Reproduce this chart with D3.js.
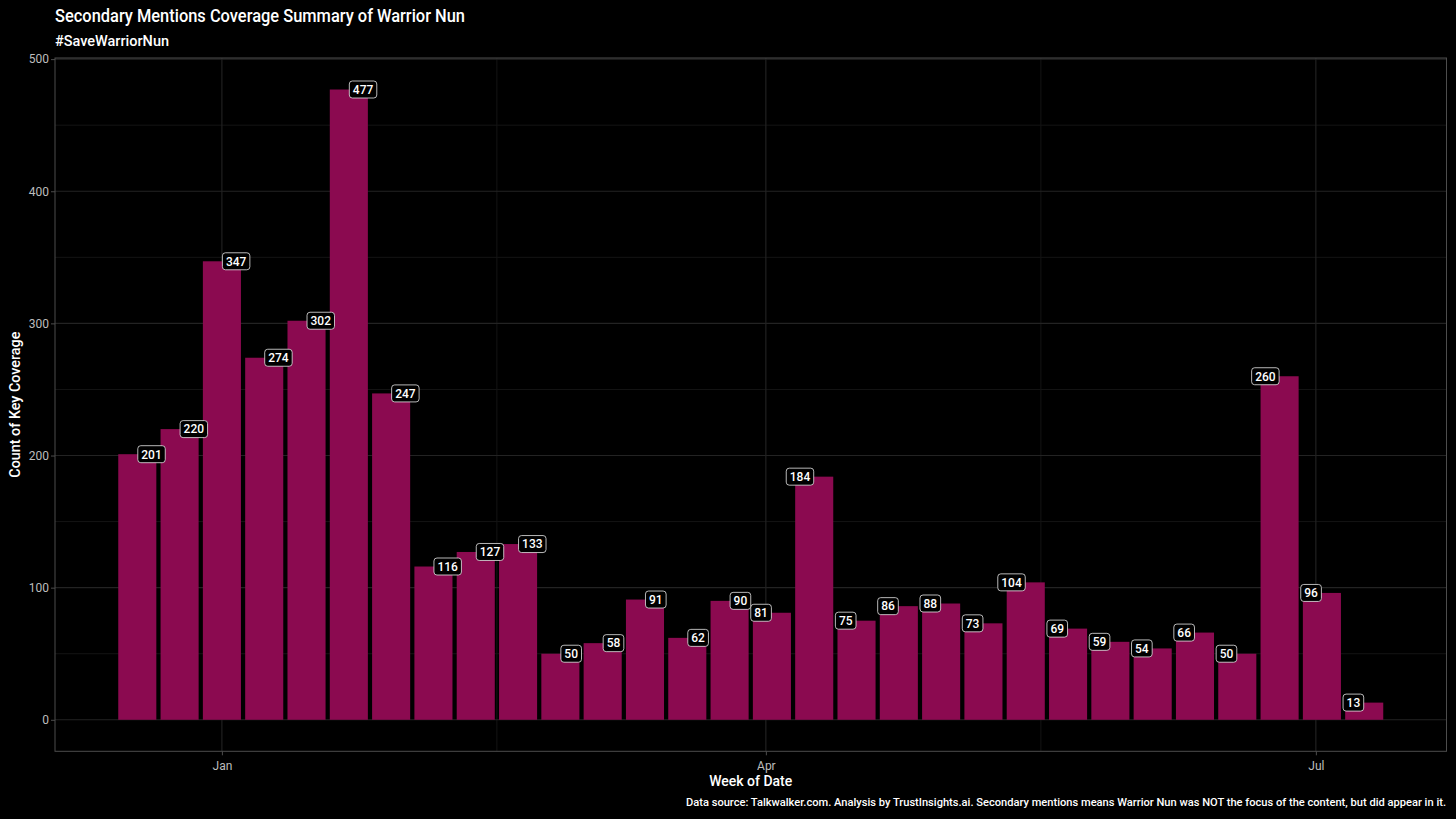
<!DOCTYPE html>
<html>
<head>
<meta charset="utf-8">
<script src="https://cdn.jsdelivr.net/npm/d3@7"></script>
<style>
  body { margin: 0; background: #000; }
  svg text { font-family: "Roboto", "Noto Sans", sans-serif; }
</style>
</head>
<body>
<div id="chart"></div>
<script>
// weekly counts, week starting Sunday
const firstWeek = "2022-12-18";
const counts = [201, 220, 347, 274, 302, 477, 247, 116, 127, 133, 50, 58, 91, 62, 90,
                81, 184, 75, 86, 88, 73, 104, 69, 59, 54, 66, 50, 260, 96, 13];
const yTicks = [0, 100, 200, 300, 400, 500];
const xTicks = ["2023-01-01", "2023-04-01", "2023-07-01"];
const xTickLabels = ["Jan", "Apr", "Jul"];
const xMinor = ["2023-02-15T12:00", "2023-05-16T12:00"];

const width = 1456, height = 819;
const margin = { top: 58, right: 9.5, bottom: 67.7, left: 55 };
const DAY = 86400000;

const parse = s => new Date(s + (s.length === 10 ? "T00:00" : ""));
const start = parse(firstWeek);
const data = counts.map((v, i) => ({ date: new Date(start.getTime() + i * 7 * DAY), value: v }));

const svg = d3.select("#chart").append("svg")
    .attr("width", width)
    .attr("height", height);

svg.append("rect").attr("width", width).attr("height", height).attr("fill", "#000");

// ggplot-like expansion around bar edges (bar width = 0.9 week)
const half = 7 * 0.9 / 2 * DAY;
const lo = data[0].date.getTime() - half;
const hi = data[data.length - 1].date.getTime() + half;
const padX = (hi - lo) * 0.05;
const x = d3.scaleTime()
    .domain([new Date(lo - padX), new Date(hi + padX)])
    .range([margin.left, width - margin.right]);

const yMax = d3.max(counts);
const y = d3.scaleLinear()
    .domain([-yMax * 0.05, 500.85])
    .range([height - margin.bottom, margin.top]);

const barW = x(new Date(start.getTime() + 2 * half)) - x(start);

// grid
const grid = svg.append("g");
d3.range(50, 500, 100).forEach(v => {
    grid.append("line").attr("x1", margin.left).attr("x2", width - margin.right)
        .attr("y1", y(v)).attr("y2", y(v)).attr("stroke", "#141414").attr("stroke-width", 1);
});
xMinor.forEach(d => {
    grid.append("line").attr("x1", x(parse(d))).attr("x2", x(parse(d)))
        .attr("y1", margin.top).attr("y2", height - margin.bottom).attr("stroke", "#141414");
});
yTicks.forEach(v => {
    grid.append("line").attr("x1", margin.left).attr("x2", width - margin.right)
        .attr("y1", y(v)).attr("y2", y(v)).attr("stroke", "#232323").attr("stroke-width", 1.1);
});
xTicks.forEach(d => {
    grid.append("line").attr("x1", x(parse(d))).attr("x2", x(parse(d)))
        .attr("y1", margin.top).attr("y2", height - margin.bottom).attr("stroke", "#232323").attr("stroke-width", 1.1);
});

// bars
svg.append("g").selectAll("rect")
    .data(data)
    .enter()
    .append("rect")
    .attr("x", d => x(d.date) - barW / 2)
    .attr("width", barW)
    .attr("y", d => y(d.value))
    .attr("height", d => y(0) - y(d.value))
    .attr("fill", "#8B0A50");

// panel border
svg.append("rect")
    .attr("x", margin.left).attr("y", margin.top)
    .attr("width", width - margin.left - margin.right)
    .attr("height", height - margin.top - margin.bottom)
    .attr("fill", "none").attr("stroke", "#4d4d4d").attr("stroke-width", 1);

// axes
const xAxis = d3.axisBottom(x)
    .tickValues(xTicks.map(parse))
    .tickFormat((d, i) => xTickLabels[i])
    .tickSize(4).tickSizeOuter(0);
const gx = svg.append("g")
    .attr("transform", `translate(0,${height - margin.bottom})`)
    .call(xAxis);
gx.select(".domain").remove();
gx.selectAll("line").attr("stroke", "#4d4d4d");
gx.selectAll("text").attr("fill", "#bdbdbd").attr("font-size", 12).attr("y", 8).attr("dy", "0.9em");

const yAxis = d3.axisLeft(y).tickValues(yTicks).tickSize(4).tickSizeOuter(0);
const gy = svg.append("g")
    .attr("transform", `translate(${margin.left},0)`)
    .call(yAxis);
gy.select(".domain").remove();
gy.selectAll("line").attr("stroke", "#4d4d4d");
gy.selectAll("text").attr("fill", "#bdbdbd").attr("font-size", 12).attr("x", -6);

// value labels
const labels = svg.append("g").selectAll("g")
    .data(data)
    .enter()
    .append("g")
    .attr("transform", d => `translate(${x(d.date)},${y(d.value)})`);

labels.each(function (d) {
    const g = d3.select(this);
    const t = g.append("text")
        .attr("fill", "#fff")
        .attr("font-size", 12)
        .attr("font-weight", 500)
        .attr("dy", "0.36em")
        .text(d.value);
    const w = t.node().getComputedTextLength() + 8;
    const left = d.date < parse("2023-04-01");
    const x0 = left ? 0 : -w;
    t.attr("x", x0 + w / 2).attr("text-anchor", "middle");
    g.insert("rect", "text")
        .attr("x", x0 + 0.5).attr("y", -8.5)
        .attr("width", w - 1).attr("height", 17)
        .attr("rx", 3)
        .attr("fill", "#000")
        .attr("stroke", "#e6e6e6")
        .attr("stroke-width", 0.8);
});

// titles (condensed to match the reference widths)
function fitText(sel, len) {
    sel.attr("textLength", len).attr("lengthAdjust", "spacingAndGlyphs");
}
svg.append("text").attr("x", 55).attr("y", 22)
    .attr("fill", "#fff").attr("font-size", 19).attr("font-weight", 500)
    .text("Secondary Mentions Coverage Summary of Warrior Nun")
    .call(fitText, 410);
svg.append("text").attr("x", 55).attr("y", 46)
    .attr("fill", "#fff").attr("font-size", 15).attr("font-weight", 500)
    .text("#SaveWarriorNun")
    .call(fitText, 114);
svg.append("text")
    .attr("transform", `translate(20,${(margin.top + height - margin.bottom) / 2}) rotate(-90)`)
    .attr("text-anchor", "middle")
    .attr("fill", "#fff").attr("font-size", 14).attr("font-weight", 500)
    .text("Count of Key Coverage")
    .call(fitText, 146);
svg.append("text")
    .attr("x", (margin.left + width - margin.right) / 2).attr("y", 786)
    .attr("text-anchor", "middle")
    .attr("fill", "#fff").attr("font-size", 14).attr("font-weight", 500)
    .text("Week of Date")
    .call(fitText, 83);
svg.append("text")
    .attr("x", 686).attr("y", 806)
    .attr("fill", "#fff").attr("font-size", 11).attr("font-weight", 500)
    .text("Data source: Talkwalker.com. Analysis by TrustInsights.ai. Secondary mentions means Warrior Nun was NOT the focus of the content, but did appear in it.")
    .call(fitText, 760);
</script>
</body>
</html>
